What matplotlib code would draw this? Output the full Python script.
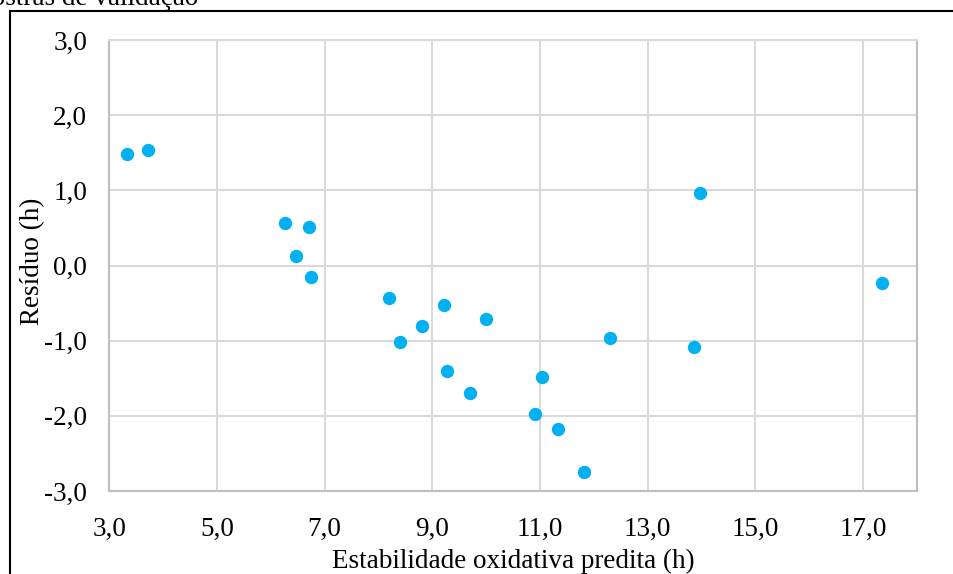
import matplotlib
matplotlib.use("Agg")
import matplotlib.pyplot as plt
from matplotlib.patches import Rectangle

predita = [3.32, 3.72, 6.27, 6.70, 6.47, 6.75, 8.20, 8.39, 8.81, 9.22, 9.28,
           9.69, 10.00, 10.91, 11.04, 11.34, 11.82, 12.29, 13.85, 13.97, 17.35]
residuo = [1.49, 1.54, 0.56, 0.51, 0.12, -0.15, -0.43, -1.02, -0.80, -0.53, -1.41,
           -1.70, -0.71, -1.98, -1.49, -2.18, -2.75, -0.96, -1.09, 0.96, -0.23]
xticks = [3, 5, 7, 9, 11, 13, 15, 17]
yticks = [-3, -2, -1, 0, 1, 2, 3]

plt.rcParams['font.family'] = ['Liberation Serif', 'DejaVu Serif']

W, H = 954, 574
FS = 19.5
AX_L, AX_R, AX_T, AX_B = 109.3, 917, 40, 491
fig = plt.figure(figsize=(W / 100, H / 100), dpi=100)
ax = fig.add_axes([AX_L / W, 1 - AX_B / H, (AX_R - AX_L) / W, (AX_B - AX_T) / H])

ax.scatter(predita, residuo, s=92, color='#00B0F0', zorder=3, linewidths=0)

ax.set_xlim(3, 18)
ax.set_ylim(-3, 3)
ax.set_xticks(xticks)
ax.set_yticks(yticks)
ax.set_xticklabels([f"{v:.1f}".replace('.', ',') for v in xticks])
ax.set_yticklabels([f"{v:.1f}".replace('.', ',') for v in yticks])
ax.tick_params(length=0, labelsize=FS, colors='black')
ax.tick_params(axis='x', pad=19)
ax.tick_params(axis='y', pad=16)
ax.grid(True, color='#D9D9D9', linewidth=1.5, zorder=0)
ax.set_axisbelow(True)
for s in ['left', 'right', 'bottom']:
    ax.spines[s].set_color('#BFBFBF')
    ax.spines[s].set_linewidth(1.5)
ax.spines['top'].set_color('#D9D9D9')
ax.spines['top'].set_linewidth(1.5)

ax.set_xlabel('Estabilidade oxidativa predita (h)', fontsize=FS, labelpad=5)
ax.set_ylabel('Resíduo (h)', fontsize=FS)
ax.yaxis.set_label_coords((45 - AX_L) / (AX_R - AX_L), 0.51)

fig.text(198 / W, 1 - 5 / H, 'Amostras de validação', fontsize=FS,
         ha='right', va='baseline')

fig.patches.append(Rectangle((10 / W, -0.1), 1.2, 1 - 11 / H + 0.1,
                             transform=fig.transFigure, fill=False,
                             edgecolor='black', linewidth=1.5, figure=fig))

fig.savefig('out.png', dpi=100)
